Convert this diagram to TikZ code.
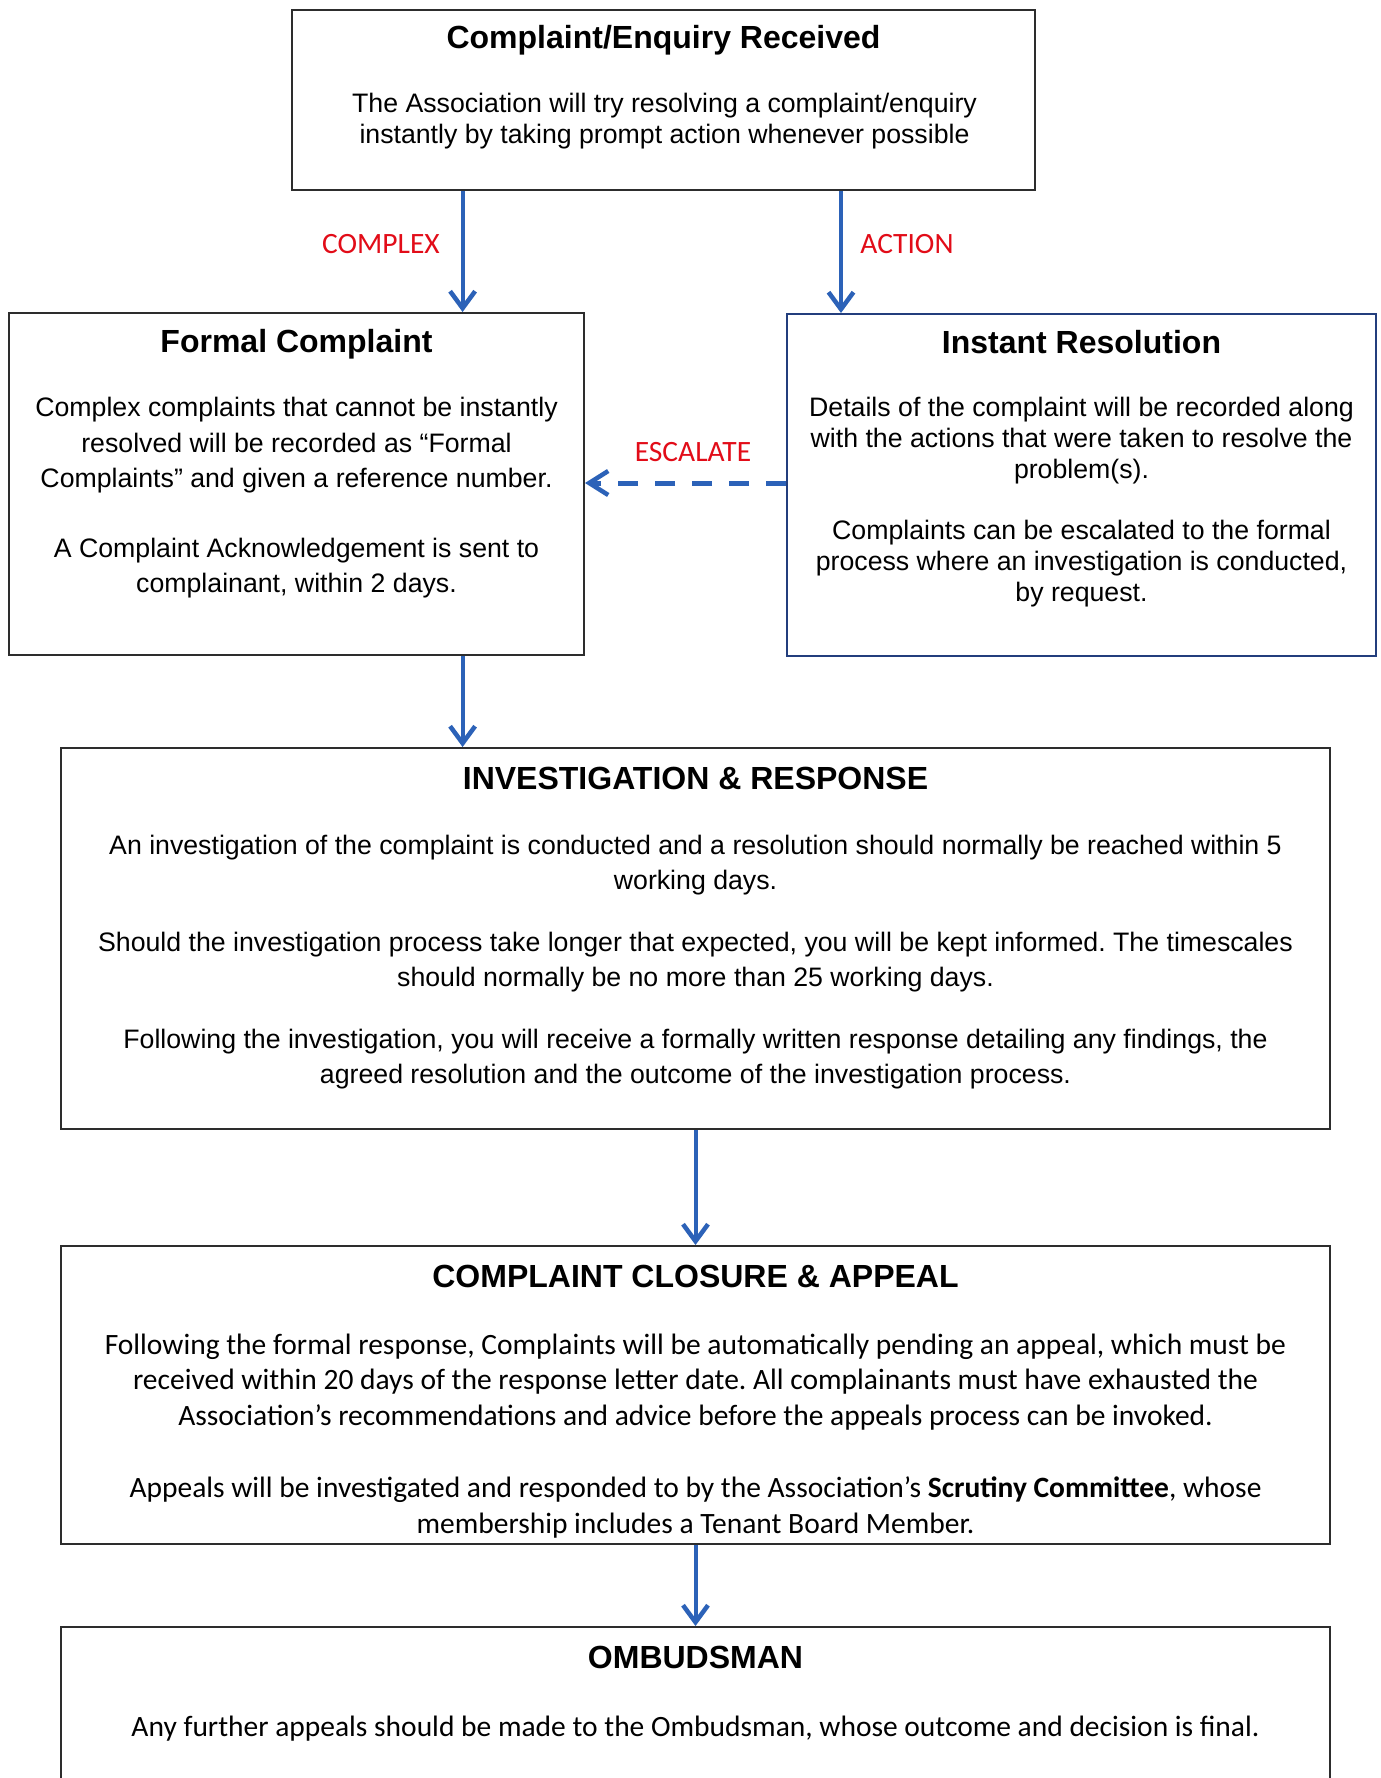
\documentclass[tikz,border=0pt]{standalone}
\usepackage{fontspec}
\setmainfont{Liberation Sans}
\newfontfamily\calibri{Carlito}
\usetikzlibrary{arrows.meta}
\definecolor{arrowblue}{RGB}{44,98,184}
\definecolor{labelred}{RGB}{226,12,24}
\definecolor{boxgray}{RGB}{45,45,45}
\definecolor{boxblue}{RGB}{35,62,125}
\frenchspacing
\begin{document}
\begin{tikzpicture}[x=1pt,y=-1pt,
  box/.style={draw=boxgray, line width=2pt, rectangle, inner sep=0pt},
  ttl/.style={font=\fontsize{32}{38}\selectfont\bfseries, inner sep=0pt, anchor=base},
  bodytxt/.style={align=center, inner sep=0pt, anchor=center},
  arr/.style={draw=arrowblue, line width=4pt, -{Straight Barb[length=17pt,width=25pt,line width=4.5pt]}},
  darr/.style={draw=arrowblue, line width=5pt, dash pattern=on 20pt off 17pt, -{Straight Barb[length=19pt,width=24pt,line width=4.5pt]}},
  lbl/.style={text=labelred, font=\calibri\fontsize{29.5}{34}\selectfont, inner sep=0pt}]
\fill[white] (0,0) rectangle (1381,1778);
\useasboundingbox (0,0) rectangle (1381,1778);

% boxes
\node[box, minimum width=743pt, minimum height=180pt] (recv) at (663.5,100) {};
\node[box, minimum width=575pt, minimum height=342pt] (formal) at (296.5,484) {};
\node[box, draw=boxblue, minimum width=589pt, minimum height=342pt] (instant) at (1081.5,485) {};
\node[box, minimum width=1269pt, minimum height=381pt] (invest) at (695.5,938.5) {};
\node[box, minimum width=1269pt, minimum height=298pt] (closure) at (695.5,1395) {};
\node[box, minimum width=1269pt, minimum height=400pt] (ombud) at (695.5,1827) {};

% texts
\node[ttl] (recvT) at (663.5,48.5) {Complaint/Enquiry Received};
\node[bodytxt, font=\fontsize{26.7}{31}\selectfont] (recvB) at (664.5,121) {The Association will try resolving a complaint/enquiry\\ instantly by taking prompt action whenever possible};

\node[ttl] (formalT) at (296.5,352.5) {Formal Complaint};
\node[bodytxt, font=\fontsize{26.7}{35.2}\selectfont] (formalB) at (296.5,498) {Complex complaints that cannot be instantly\\ resolved will be recorded as “Formal\\ Complaints” and given a reference number.\\[35.2pt] A Complaint Acknowledgement is sent to\\ complainant, within 2 days.};

\node[ttl] (instantT) at (1081.5,353.5) {Instant Resolution};
\node[bodytxt, font=\fontsize{26.7}{31}\selectfont] (instantB) at (1081.5,502) {Details of the complaint will be recorded along\\ with the actions that were taken to resolve the\\ problem(s).\\[29.5pt] Complaints can be escalated to the formal\\ process where an investigation is conducted,\\ by request.};

\node[ttl] (investT) at (695.5,789.5) {INVESTIGATION \& RESPONSE};
\node[bodytxt, font=\fontsize{26.7}{35}\selectfont] (investB) at (695.5,962) {An investigation of the complaint is conducted and a resolution should normally be reached within 5\\ working days.\\[27pt] Should the investigation process take longer that expected, you will be kept informed. The timescales\\ should normally be no more than 25 working days.\\[27pt] Following the investigation, you will receive a formally written response detailing any findings, the\\ agreed resolution and the outcome of the investigation process.};

\node[ttl] (closureT) at (695.5,1287) {COMPLAINT CLOSURE \& APPEAL};
\node[bodytxt, font=\calibri\fontsize{29.5}{35.5}\selectfont] (closureB) at (695.5,1436) {Following the formal response, Complaints will be automatically pending an appeal, which must be\\ received within 20 days of the response letter date. All complainants must have exhausted the\\ Association’s recommendations and advice before the appeals process can be invoked.\\[37pt] Appeals will be investigated and responded to by the Association’s \textbf{Scrutiny Committee}, whose\\ membership includes a Tenant Board Member.};

\node[ttl] (ombudT) at (695.5,1668) {OMBUDSMAN};
\node[bodytxt, font=\calibri\fontsize{29.5}{35.5}\selectfont] (ombudB) at (695.5,1729) {Any further appeals should be made to the Ombudsman, whose outcome and decision is final.};

% connector guides
\coordinate (xL) at (462.6,0);
\coordinate (xR) at (841,0);
\coordinate (yE) at (0,483);

% connectors
\draw[arr] (xL |- recv.south) -- (xL |- formal.north);
\draw[arr] (xR |- recv.south) -- (xR |- instant.north);
\draw[darr] (instant.west |- yE) -- (formal.east |- yE);
\draw[arr] (xL |- formal.south) -- (xL |- invest.north);
\draw[arr] (invest.south) -- (closure.north);
\draw[arr] (closure.south) -- (ombud.north);

% labels
\node[lbl] (lComplex) at (381,244) {COMPLEX};
\node[lbl] (lAction) at (907,244) {ACTION};
\node[lbl] (lEscalate) at (693,452) {ESCALATE};
\end{tikzpicture}
\end{document}
